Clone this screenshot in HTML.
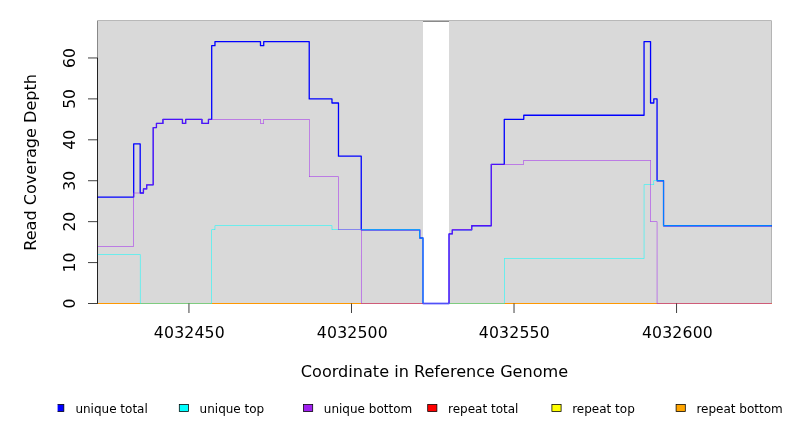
<!DOCTYPE html>
<html><head><meta charset="utf-8"><title>Read Coverage Depth</title>
<style>html,body{margin:0;padding:0;background:#fff;overflow:hidden}svg{display:block}text{font-family:'DejaVu Sans','Liberation Sans',sans-serif;fill:#000}</style></head><body>
<svg width="792" height="432" viewBox="0 0 792 432">
<rect width="792" height="432" fill="#fff"/>
<rect x="97" y="20" width="675" height="284" fill="#d9d9d9"/>
<rect x="98" y="20" width="673" height="1" fill="#b8b8b8"/>
<rect x="97" y="20" width="1" height="284" fill="#888"/>
<rect x="97" y="20" width="1" height="1" fill="#c0c0c0"/>
<rect x="771" y="21" width="1" height="283" fill="#b4b4b4"/>
<rect x="771" y="20" width="1" height="1" fill="#cfcfcf"/>
<rect x="423" y="21" width="26" height="283" fill="#fff"/>
<rect x="423" y="21" width="26" height="1" fill="#8a8a8a"/>
<defs><clipPath id="c"><rect x="97.0" y="20.5" width="675.0" height="284.5"/></clipPath></defs>
<g clip-path="url(#c)" fill="none" stroke-linejoin="round" stroke-linecap="round">
<rect x="98" y="303" width="674" height="1" fill="#ff9800" stroke="none"/>
<path d="M97.50 197.10H133.69V143.90H140.19V193.01H143.44V188.92H146.69V184.82H153.19V127.53H156.44V123.44H162.94V119.35H182.45V123.44H185.70V119.35H201.95V123.44H208.45V119.35H211.70V45.69H214.96V41.59H260.47V45.69H263.72V41.59H309.23V98.89H331.98V102.98H338.48V156.18H361.24V229.84H419.75V238.02H423.00V303.50H449.01V233.93H452.26V229.84H471.76V225.75H491.27V164.36H504.27V119.35H523.77V115.25H644.05V41.59H650.55V102.98H653.80V98.89H657.05V180.73H663.55V225.75H771.50" stroke="#0000ff" stroke-width="1.3"/>
<path d="M97.250 254.142H140.439V254.642H97.250ZM139.939 254.642H140.439V303.250H139.939ZM139.939 303.250H211.955V303.750H139.939ZM211.455 230.089H211.955V303.250H211.455ZM211.455 229.589H215.206V230.089H211.455ZM214.706 225.996H215.206V229.589H214.706ZM214.706 225.496H332.231V225.996H214.706ZM331.731 225.996H332.231V229.589H331.731ZM331.731 229.589H420.000V230.089H331.731ZM419.500 230.089H420.000V237.773H419.500ZM419.500 237.773H423.250V238.273H419.500ZM422.750 238.273H423.250V303.250H422.750ZM422.750 303.250H504.518V303.750H422.750ZM504.018 258.735H504.518V303.250H504.018ZM504.018 258.235H644.298V258.735H504.018ZM643.798 185.073H644.298V258.235H643.798ZM643.798 184.573H654.050V185.073H643.798ZM653.550 180.981H654.050V184.573H653.550ZM653.550 180.481H663.802V180.981H653.550ZM663.302 180.981H663.802V225.496H663.302ZM663.302 225.496H771.750V225.996H663.302Z" fill="#00ffff" stroke="none"/>
<path d="M97.250 245.958H133.938V246.458H97.250ZM133.438 193.258H133.938V245.958H133.438ZM133.438 192.758H143.690V193.258H133.438ZM143.190 189.166H143.690V192.758H143.190ZM143.190 188.666H146.941V189.166H143.190ZM146.441 185.073H146.941V188.666H146.441ZM146.441 184.573H153.442V185.073H146.441ZM152.942 127.781H153.442V184.573H152.942ZM152.942 127.281H156.693V127.781H152.942ZM156.193 123.689H156.693V127.281H156.193ZM156.193 123.189H163.194V123.689H156.193ZM162.694 119.597H163.194V123.189H162.694ZM162.694 119.097H182.699V119.597H162.694ZM182.199 119.597H182.699V123.189H182.199ZM182.199 123.189H185.949V123.689H182.199ZM185.449 119.597H185.949V123.189H185.449ZM185.449 119.097H202.203V119.597H185.449ZM201.703 119.597H202.203V123.189H201.703ZM201.703 123.189H208.704V123.689H201.703ZM208.204 119.597H208.704V123.189H208.204ZM208.204 119.097H260.715V119.597H208.204ZM260.215 119.597H260.715V123.189H260.215ZM260.215 123.189H263.966V123.689H260.215ZM263.466 119.597H263.966V123.189H263.466ZM263.466 119.097H309.476V119.597H263.466ZM308.976 119.597H309.476V176.389H308.976ZM308.976 176.389H338.732V176.889H308.976ZM338.232 176.889H338.732V229.589H338.232ZM338.232 229.589H361.487V230.089H338.232ZM360.987 230.089H361.487V303.250H360.987ZM360.987 303.250H449.256V303.750H360.987ZM448.756 234.181H449.256V303.250H448.756ZM448.756 233.681H452.507V234.181H448.756ZM452.007 230.089H452.507V233.681H452.007ZM452.007 229.589H472.011V230.089H452.007ZM471.511 225.996H472.011V229.589H471.511ZM471.511 225.496H491.515V225.996H471.511ZM491.015 164.612H491.515V225.496H491.015ZM491.015 164.112H524.022V164.612H491.015ZM523.522 160.519H524.022V164.112H523.522ZM523.522 160.019H650.799V160.519H523.522ZM650.299 160.519H650.799V221.404H650.299ZM650.299 221.404H657.301V221.904H650.299ZM656.801 221.904H657.301V303.250H656.801ZM656.801 303.250H771.750V303.750H656.801Z" fill="#a020f0" stroke="none"/>
</g>
<g stroke="#000" stroke-width="0.75" fill="none">
<path d="M97.50 303.50V57.96"/>
<path d="M97.50 303.50H88.00"/>
<path d="M97.50 262.58H88.00"/>
<path d="M97.50 221.65H88.00"/>
<path d="M97.50 180.73H88.00"/>
<path d="M97.50 139.81H88.00"/>
<path d="M97.50 98.89H88.00"/>
<path d="M97.50 57.96H88.00"/>
<path d="M188.95 303.50V313.00"/>
<path d="M351.49 303.50V313.00"/>
<path d="M514.02 303.50V313.00"/>
<path d="M676.56 303.50V313.00"/>
</g>
<text x="189.40" y="337.8" font-size="15.7" letter-spacing="0.17" text-anchor="middle">4032450</text>
<text x="352.36" y="337.8" font-size="15.7" letter-spacing="0.17" text-anchor="middle">4032500</text>
<text x="514.33" y="337.8" font-size="15.7" letter-spacing="0.17" text-anchor="middle">4032550</text>
<text x="677.43" y="337.8" font-size="15.7" letter-spacing="0.17" text-anchor="middle">4032600</text>
<text transform="translate(75.4 303.50) rotate(-90)" font-size="15.6" text-anchor="middle">0</text>
<text transform="translate(75.4 262.58) rotate(-90)" font-size="15.6" text-anchor="middle">10</text>
<text transform="translate(75.4 221.65) rotate(-90)" font-size="15.6" text-anchor="middle">20</text>
<text transform="translate(75.4 180.73) rotate(-90)" font-size="15.6" text-anchor="middle">30</text>
<text transform="translate(75.4 139.81) rotate(-90)" font-size="15.6" text-anchor="middle">40</text>
<text transform="translate(75.4 98.89) rotate(-90)" font-size="15.6" text-anchor="middle">50</text>
<text transform="translate(75.4 57.96) rotate(-90)" font-size="15.6" text-anchor="middle">60</text>
<text x="434.5" y="377.2" font-size="16.1" text-anchor="middle">Coordinate in Reference Genome</text>
<text transform="translate(35.9 162.4) rotate(-90)" font-size="16.1" text-anchor="middle">Read Coverage Depth</text>
<defs><clipPath id="lc"><rect x="57.6" y="390" width="740" height="42"/></clipPath></defs>
<g clip-path="url(#lc)">
<rect x="54.65" y="404.4" width="9.2" height="7.2" fill="#0000ff" stroke="#000" stroke-width="0.75"/>
<text x="75.40" y="412.7" font-size="12">unique total</text>
<rect x="179.30" y="404.4" width="9.2" height="7.2" fill="#00ffff" stroke="#000" stroke-width="0.75"/>
<text x="199.60" y="412.7" font-size="12">unique top</text>
<rect x="303.50" y="404.4" width="9.2" height="7.2" fill="#a020f0" stroke="#000" stroke-width="0.75"/>
<text x="323.80" y="412.7" font-size="12">unique bottom</text>
<rect x="427.70" y="404.4" width="9.2" height="7.2" fill="#ff0000" stroke="#000" stroke-width="0.75"/>
<text x="448.00" y="412.7" font-size="12">repeat total</text>
<rect x="551.90" y="404.4" width="9.2" height="7.2" fill="#ffff00" stroke="#000" stroke-width="0.75"/>
<text x="572.20" y="412.7" font-size="12">repeat top</text>
<rect x="676.10" y="404.4" width="9.2" height="7.2" fill="#ffa500" stroke="#000" stroke-width="0.75"/>
<text x="696.40" y="412.7" font-size="12">repeat bottom</text>
</g>
</svg></body></html>
